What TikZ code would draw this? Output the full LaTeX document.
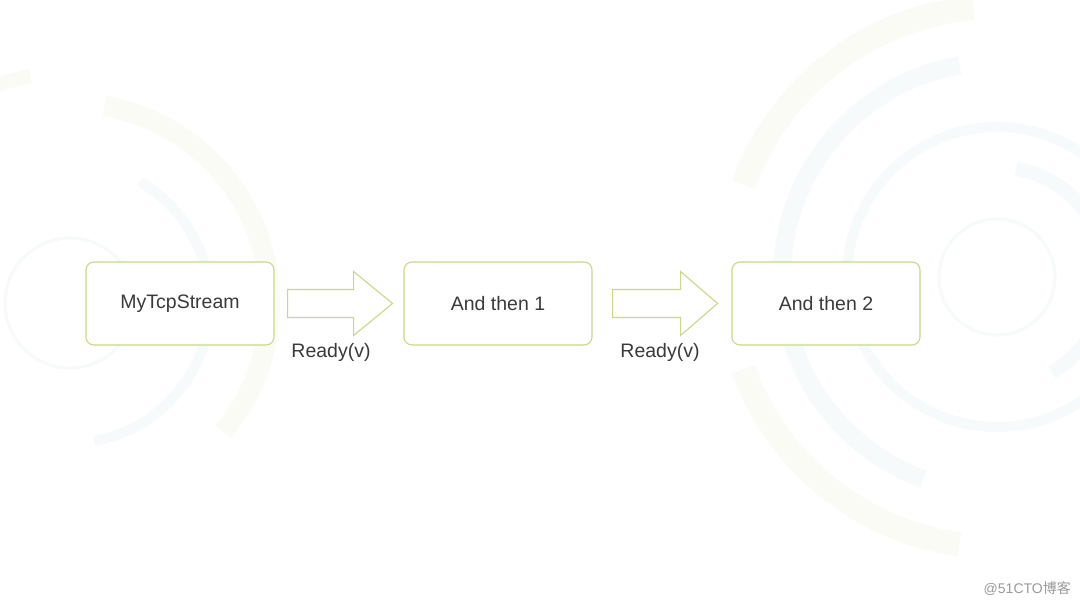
\documentclass[tikz,border=0pt]{standalone}
\usepackage{fontspec}
\setmainfont{Liberation Sans}
\newfontfamily\cjkfont{Noto Sans CJK SC}
\usetikzlibrary{calc}
\definecolor{boxline}{HTML}{C8D88A}
\definecolor{txt}{HTML}{3A3A3A}
\definecolor{bgA}{HTML}{F9FBF4}
\definecolor{bgB}{HTML}{F6FAFA}
\definecolor{wm}{HTML}{9A9A9A}
\tikzset{
  stagebox/.style={draw=boxline, line width=1.1pt, rounded corners=8pt, fill=white,
    minimum width=188pt, minimum height=83pt, inner sep=0pt, text=txt,
    font=\fontsize{19.5}{22}\selectfont},
  blockarrow/.style={draw=boxline, line width=1.1pt, fill=white, line join=miter},
  readylbl/.style={text=txt, font=\fontsize{19.5}{22}\selectfont, inner sep=0pt},
}
\begin{document}
\begin{tikzpicture}[x=1pt,y=1pt]
\useasboundingbox (0,0) rectangle (1080,607);
\fill[white] (0,0) rectangle (1080,607);
% faint background decoration, right
\begin{scope}
\draw[bgB, line width=18pt] (997,330) ++(100:215) arc (100:250:215);
\draw[bgA, line width=24pt] (997,330) ++(95:270) arc (95:160:270);
\draw[bgA, line width=24pt] (997,330) ++(200:270) arc (200:262:270);
\draw[bgB, line width=10pt] (997,330) ++(30:150) arc (30:330:150);
\draw[bgB, line width=3pt] (997,330) circle (58);
\draw[bgB, line width=14pt] (997,330) ++(-60:110) arc (-60:80:110);
\end{scope}
% faint background decoration, left
\begin{scope}
\draw[bgA, line width=20pt] (70,304) ++(-40:200) arc (-40:80:200);
\draw[bgB, line width=10pt] (70,304) ++(-80:140) arc (-80:60:140);
\draw[bgB, line width=3pt] (70,304) circle (65);
\draw[bgA, line width=14pt] (70,304) ++(100:230) arc (100:140:230);
\end{scope}
% stages
\node[stagebox] (s1) at (180,303.5) {MyTcpStream};
\node[stagebox] (s2) at (498,303.5) {And then 1};
\node[stagebox] (s3) at (826,303.5) {And then 2};
% block arrows between stages
\draw[blockarrow] ($(s1.east)+(13,-14)$) -- ++(66,0) -- ++(0,-18)
  -- ($(s1.east)+(118,0)$) -- ($(s1.east)+(79,32)$) -- ++(0,-18) -- ++(-66,0) -- cycle;
\draw[blockarrow] ($(s2.east)+(20,-14)$) -- ++(68,0) -- ++(0,-18)
  -- ($(s2.east)+(125,0)$) -- ($(s2.east)+(88,32)$) -- ++(0,-18) -- ++(-68,0) -- cycle;
\node[readylbl] (r1) at (331,255) {Ready(v)};
\node[readylbl] (r2) at (660,255) {Ready(v)};
% watermark
\node[text=wm, font=\fontsize{14}{16}\selectfont, inner sep=0pt, anchor=east] (wmk) at (1071,18) {@51CTO{\cjkfont 博客}};
\end{tikzpicture}
\end{document}
